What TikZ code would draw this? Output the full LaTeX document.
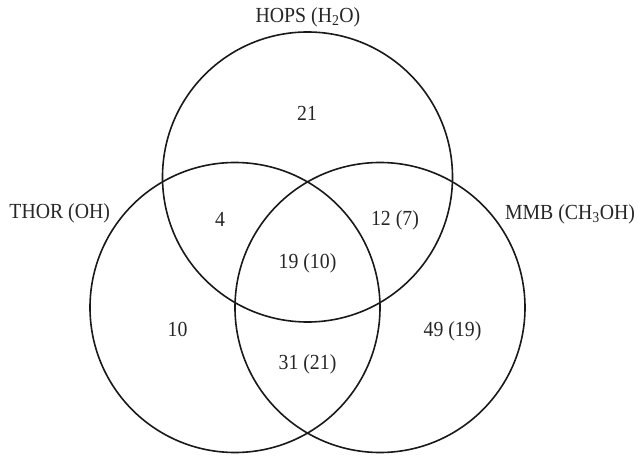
\documentclass[tikz,border=0pt]{standalone}
\usepackage{fontspec}
\usepackage{graphicx}
\setmainfont{Liberation Serif}
\newcommand\narrowtxt[1]{\scalebox{0.92}[1]{#1}}
\begin{document}
\begin{tikzpicture}[x=1pt,y=-1pt,
  setc/.style={circle,draw=black!90,line width=1.6pt,minimum size=290pt,inner sep=0pt},
  lab/.style={font=\fontsize{21.5}{24}\selectfont,inner sep=0pt,anchor=base,text=black!85}]
\useasboundingbox (0,0) rectangle (638,457);
\node[setc] (hops) at (307.5,177) {};
\node[setc] (thor) at (235,307.5) {};
\node[setc] (mmb) at (380,307.5) {};
\node[lab] (lhops) at (308,22.7) {\narrowtxt{HOPS (H\textsubscript{2}O)}};
\node[lab] (lthor) at (59.7,218.5) {\narrowtxt{THOR (OH)}};
\node[lab] (lmmb) at (570,219.5) {\narrowtxt{MMB (CH\textsubscript{3}OH)}};
\node[lab] (n21) at (307,121) {\narrowtxt{21}};
\node[lab] (n4) at (220,226.5) {\narrowtxt{4}};
\node[lab] (n12) at (395,226) {\narrowtxt{12 (7)}};
\node[lab] (n19) at (307.5,269) {\narrowtxt{19 (10)}};
\node[lab] (n10) at (177.5,336.7) {\narrowtxt{10}};
\node[lab] (n49) at (452.5,336.7) {\narrowtxt{49 (19)}};
\node[lab] (n31) at (307.5,370) {\narrowtxt{31 (21)}};
\end{tikzpicture}
\end{document}
